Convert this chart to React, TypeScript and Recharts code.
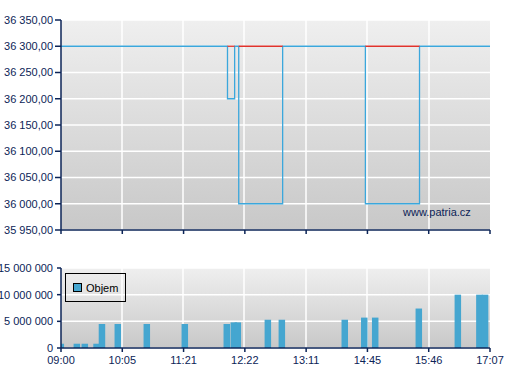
import { ComposedChart, Line, Bar, XAxis, YAxis, CartesianGrid } from 'recharts';

// x axis runs on a trading-slot index 0..420, labels are evenly spaced
const timeLabels = ['09:00', '10:05', '11:21', '12:22', '13:11', '14:45', '15:46', '17:07'];
const timeTicks = [0, 60, 120, 180, 240, 300, 360, 420];

// last price (step line)
const priceTimes = [0, 163, 170, 174, 217, 298, 351, 420];
const priceValues = [36300, 36200, 36300, 36000, 36300, 36000, 36300, 36300];

// day high stretches (red)
const highStarts = [163, 174, 298];
const highEnds = [170, 217, 351];
const highValue = 36300;

const priceTicks = [35950, 36000, 36050, 36100, 36150, 36200, 36250, 36300, 36350];

// volume
const volTimes = [0, 15.7, 23.5, 35, 40.3, 55.8, 84.2, 121.4, 162.5, 169.4, 173.3, 202.7, 216.4, 278, 297.1, 307.8, 350.5, 388.7, 409.8, 415.4];
const volValues = [
  800000, 800000, 800000, 800000, 4500000, 4500000, 4500000, 4500000, 4500000, 4800000,
  4800000, 5300000, 5300000, 5300000, 5700000, 5700000, 7400000, 10000000, 10000000, 10000000,
];
const volTicks = [0, 5000000, 10000000, 15000000];
const volName = 'Objem';

const NAVY = '#0c2457';
const BLUE_BAR = '#45a6d0';
const FONT = '"Liberation Sans", Arial, sans-serif';
const BAR_W = 6.5;
const GRID_X = [122, 183, 244, 306, 367, 429];

const priceData = priceTimes.map((t, i) => ({ t, price: priceValues[i] }));
const highData = highStarts.map((s, i) => [
  { t: s, high: highValue },
  { t: highEnds[i], high: highValue },
]);
const volData = volTimes.map((t, i) => ({ t, vol: volValues[i] }));

// thin grouping with non-breaking spaces so tick text doesn't wrap
const groupSpaces = (n: number) => String(Math.round(n)).replace(/\B(?=(\d{3})+(?!\d))/g, '\u00a0');
const fmtPrice = (v: number) => groupSpaces(v) + ',00';
const fmtTime = (v: number) => timeLabels[timeTicks.indexOf(v)] ?? '';

const tickStyle = { fill: NAVY, fontSize: 11, fontFamily: FONT };
const axisLine = { stroke: NAVY, strokeWidth: 1.5 };

const VolBar = (props: any) => {
  const { x, y, width, height, fill } = props;
  if (!height || height <= 0) return null;
  const cx = x + width / 2;
  return <rect x={cx - BAR_W / 2} y={y} width={BAR_W} height={height} fill={fill} />;
};

export default function App() {
  return (
    <div style={{ position: 'absolute', left: 0, top: 0, width: 507, height: 380, background: '#fff' }}>
      <div style={{ position: 'absolute', left: 0, top: 0 }}>
        <ComposedChart width={507} height={240} margin={{ top: 20, right: 17, left: 0, bottom: 0 }}>
          <defs>
            <linearGradient id="bgTop" x1="0" y1="0" x2="0" y2="1">
              <stop offset="0%" stopColor="#efefef" />
              <stop offset="100%" stopColor="#c8c8c8" />
            </linearGradient>
          </defs>
          <CartesianGrid fill="url(#bgTop)" stroke="#ffffff" strokeWidth={1.5} verticalPoints={GRID_X} />
          <XAxis
            dataKey="t"
            type="number"
            domain={[0, 420]}
            ticks={timeTicks}
            allowDataOverflow
            height={10}
            tickSize={4}
            tickFormatter={() => ''}
            axisLine={axisLine}
            tickLine={axisLine}
          />
          <YAxis
            type="number"
            domain={[35950, 36350]}
            ticks={priceTicks}
            width={61}
            tickSize={6}
            tickMargin={2}
            tickFormatter={fmtPrice}
            tick={tickStyle}
            axisLine={axisLine}
            tickLine={axisLine}
          />
          <Line
            data={priceData}
            dataKey="price"
            type="stepAfter"
            stroke="#3ba7dc"
            strokeWidth={1.3}
            dot={false}
            isAnimationActive={false}
          />
          {highData.map((d, i) => (
            <Line
              key={i}
              data={d}
              dataKey="high"
              type="linear"
              stroke="#e0332c"
              strokeWidth={1.3}
              dot={false}
              isAnimationActive={false}
            />
          ))}
        </ComposedChart>
        <div style={{ position: 'absolute', left: 403, top: 206, fontFamily: FONT, fontSize: 11, color: NAVY }}>
          www.patria.cz
        </div>
      </div>
      <div style={{ position: 'absolute', left: 0, top: 240 }}>
        <ComposedChart width={507} height={140} data={volData} margin={{ top: 28, right: 17, left: 0, bottom: 0 }}>
          <defs>
            <linearGradient id="bgBot" x1="0" y1="0" x2="0" y2="1">
              <stop offset="0%" stopColor="#efefef" />
              <stop offset="100%" stopColor="#c8c8c8" />
            </linearGradient>
          </defs>
          <CartesianGrid fill="url(#bgBot)" stroke="#ffffff" strokeWidth={1.5} verticalPoints={GRID_X} />
          <XAxis
            dataKey="t"
            type="number"
            domain={[0, 420]}
            ticks={timeTicks}
            allowDataOverflow
            height={32}
            tickSize={4}
            tickMargin={4}
            tickFormatter={fmtTime}
            tick={tickStyle}
            axisLine={axisLine}
            tickLine={axisLine}
          />
          <YAxis
            type="number"
            domain={[0, 15000000]}
            ticks={volTicks}
            width={61}
            tickSize={4}
            tickMargin={4}
            tickFormatter={groupSpaces}
            tick={tickStyle}
            axisLine={axisLine}
            tickLine={axisLine}
          />
          <Bar dataKey="vol" name={volName} fill={BLUE_BAR} barSize={6} shape={VolBar} isAnimationActive={false} />
        </ComposedChart>
        <div
          style={{
            position: 'absolute',
            left: 65,
            top: 33,
            width: 59,
            height: 27,
            border: '1px solid #000',
            display: 'flex',
            alignItems: 'center',
            fontFamily: FONT,
            fontSize: 11,
            color: '#000',
          }}
        >
          <span
            style={{
              display: 'inline-block',
              width: 7,
              height: 7,
              background: BLUE_BAR,
              border: '1px solid #000',
              marginLeft: 7,
              marginRight: 4,
            }}
          />
          {volName}
        </div>
      </div>
    </div>
  );
}
